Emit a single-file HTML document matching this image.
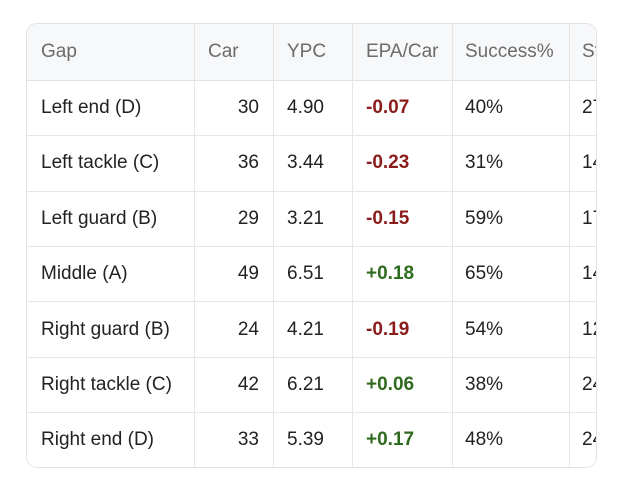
<!DOCTYPE html>
<html><head><style>
body{margin:0;width:622px;height:499px;background:#fff;font-family:"Liberation Sans",sans-serif;overflow:hidden}
.box{position:absolute;left:26px;top:23px;width:569px;height:443px;border:1px solid #e3e3e3;border-radius:11px;overflow:hidden}
.hd{position:absolute;left:0;top:0;width:100%;height:56px;background:#f7f8fa;border-bottom:1px solid #e3e3e3}
.vl{position:absolute;top:0;width:1px;height:100%;background:#e6e6e6}
.hl{position:absolute;left:0;width:100%;height:1px;background:#e6e6e6}
.c{position:absolute;font-size:19px;color:#222;line-height:20px;white-space:nowrap}
.h{color:#6b6b6b}
.r{color:#8b1c1c;font-weight:bold}
.g{color:#2f6b1f;font-weight:bold}
</style></head><body>
<div class="box">
<div class="hd"></div>
<div class="vl" style="left:167px"></div>
<div class="vl" style="left:246px"></div>
<div class="vl" style="left:325px"></div>
<div class="vl" style="left:425px"></div>
<div class="vl" style="left:542px"></div>
<div class="hl" style="top:111px"></div>
<div class="hl" style="top:167px"></div>
<div class="hl" style="top:222px"></div>
<div class="hl" style="top:277px"></div>
<div class="hl" style="top:333px"></div>
<div class="hl" style="top:388px"></div>
<div id="t"></div>
</div>
<script>
var rows=[["Gap","Car","YPC","EPA/Car","Success%","St"],
["Left end (D)","30","4.90","-0.07","40%","27"],
["Left tackle (C)","36","3.44","-0.23","31%","14"],
["Left guard (B)","29","3.21","-0.15","59%","17"],
["Middle (A)","49","6.51","+0.18","65%","14"],
["Right guard (B)","24","4.21","-0.19","54%","12"],
["Right tackle (C)","42","6.21","+0.06","38%","24"],
["Right end (D)","33","5.39","+0.17","48%","24"]];
var ys=[18,74,129,185,240,296,351,406];
var h="";
rows.forEach(function(r,i){
 var cls=i==0?"c h":"c";
 h+='<div class="'+cls+'" style="left:14px;top:'+ys[i]+'px">'+r[0]+'</div>';
 if(i==0) h+='<div class="c h" style="left:181px;top:'+ys[i]+'px">'+r[1]+'</div>';
 else h+='<div class="c" style="right:'+(569-232)+'px;top:'+ys[i]+'px">'+r[1]+'</div>';
 h+='<div class="'+cls+'" style="left:260px;top:'+ys[i]+'px">'+r[2]+'</div>';
 var e=i==0?cls:(r[3][0]=="-"?"c r":"c g");
 h+='<div class="'+e+'" style="left:339px;top:'+ys[i]+'px">'+r[3]+'</div>';
 h+='<div class="'+cls+'" style="left:438px;top:'+ys[i]+'px">'+r[4]+'</div>';
 h+='<div class="'+cls+'" style="left:555px;top:'+ys[i]+'px">'+r[5]+'</div>';
});
document.getElementById("t").innerHTML=h;
</script>
</body></html>
